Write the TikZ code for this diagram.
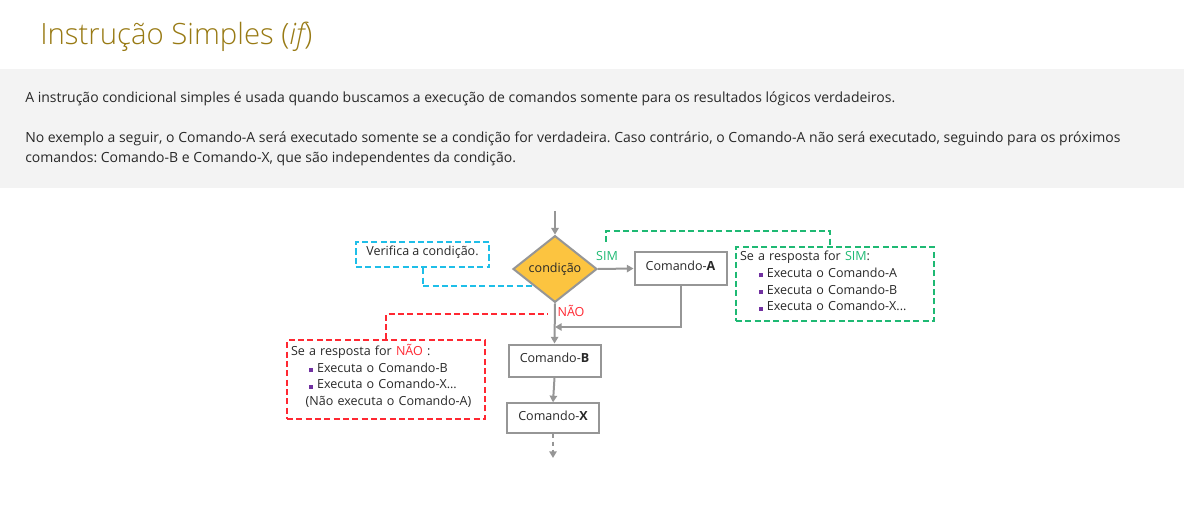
\documentclass[tikz,border=0pt]{standalone}
\usepackage{fontspec}
\setmainfont{Open Sans}
\newfontfamily\fonteleve{Open Sans Light}
\usetikzlibrary{shapes.geometric,arrows.meta}
\definecolor{titulo}{RGB}{152,122,20}
\definecolor{fundo}{RGB}{243,243,243}
\definecolor{cinza}{RGB}{150,150,150}
\definecolor{amarelo}{RGB}{252,196,64}
\definecolor{azul}{RGB}{30,190,232}
\definecolor{verde}{RGB}{30,185,115}
\definecolor{vermelho}{RGB}{255,40,50}
\definecolor{roxo}{RGB}{112,48,160}
\definecolor{texto}{RGB}{40,40,40}
\newcommand{\marca}{\textcolor{roxo}{\rule{3pt}{3pt}}\ }
\newcommand{\fundonota}[1]{\rule[-#1]{0pt}{#1}}
\frenchspacing
\begin{document}
\begin{tikzpicture}[x=0.75pt,y=-0.75pt,
    texto/.style={text=texto,font=\fontsize{10.5}{15}\selectfont,inner sep=0pt},
    diag/.style={text=texto,font=\fontsize{9.4}{12.5}\selectfont},
    caixa/.style={diag,draw=cinza,line width=1.5pt,minimum width=69pt,minimum height=24pt,inner sep=2pt,text depth=3.8pt},
    losango/.style={diag,diamond,draw=cinza,fill=amarelo,line width=1.5pt,minimum width=63pt,minimum height=50pt,inner sep=0pt},
    seta/.style={draw=cinza,line width=1.5pt,-{Triangle[width=5.5pt,length=5pt]}},
    nota/.style={diag,draw=#1,dash pattern=on 4.5pt off 2.5pt,line width=1.5pt,align=left,inner sep=3pt},
    ligacao/.style={draw=#1,dash pattern=on 4.5pt off 2.5pt,line width=1.5pt}
]
\useasboundingbox (0,0) rectangle (1184,513);
\fill[fundo] (0,69) rectangle (1184,188);
\node[anchor=base west,text=titulo,font=\fonteleve\fontsize{22}{26}\selectfont,inner sep=0pt] (titulo) at (40,45) {Instrução Simples ({\itshape if})};
\node[texto,anchor=base west] (linha1) at (25,103) {A instrução condicional simples é usada quando buscamos a execução de comandos somente para os resultados lógicos verdadeiros.};
\node[texto,anchor=base west] (linha2) at (25,143) {No exemplo a seguir, o Comando-A será executado somente se a condição for verdadeira. Caso contrário, o Comando-A não será executado, seguindo para os próximos};
\node[texto,anchor=base west] (linha3) at (25,163) {comandos: Comando-B e Comando-X, que são independentes da condição.};

\coordinate (inicio) at (555,211);
\coordinate (juncao) at (555,327);
\coordinate (fim) at (553,458);
\coordinate (simlig) at (606,242);
\coordinate (naolig) at (548,314);

\node[losango] (cond) at (555,269) {condição};
\node[caixa] (cmdA) at (680.5,268.5) {Comando-\textbf{A}};
\node[caixa] (cmdB) at (554.5,360.5) {Comando-\textbf{B}};
\node[caixa,minimum height=22pt] (cmdX) at (553,418) {Comando-\textbf{X}};
\node[diag,text=verde,inner sep=0pt] (sim) at (607,256) {SIM};
\node[diag,text=vermelho,inner sep=0pt] (nao) at (571,311) {NÃO};

\node[nota=azul,minimum width=100pt,minimum height=19pt,text depth=5.5pt] (verifica) at (422.5,254.5) {Verifica a condição.};
\node[nota=verde,text width=142.5pt,minimum height=55.5pt] (notasim) at (835,284)
    {Se a resposta for \textcolor{verde}{SIM}:\\
     \hspace*{14pt}\marca Executa o Comando-A\\
     \hspace*{14pt}\marca Executa o Comando-B\\
     \hspace*{14pt}\marca Executa o Comando-X...\fundonota{4.5pt}};
\node[nota=vermelho,text width=142.5pt,minimum height=56pt] (notanao) at (386,379.5)
    {Se a resposta for \textcolor{vermelho}{NÃO} :\\
     \hspace*{13.5pt}\marca Executa o Comando-B\\
     \hspace*{13.5pt}\marca Executa o Comando-X...\\
     \hspace*{11pt}(Não executa o Comando-A)\fundonota{6.7pt}};

\draw[seta] (inicio) -- (cond.north);
\draw[seta] (cond.east) -- (cmdA.west);
\draw[seta] (cond.south) -- (cmdB.north);
\draw[seta] (cmdA.south) |- (juncao);
\draw[seta] (cmdB.south) -- (cmdX.north);
\draw[seta,dashed] (cmdX.south) -- (fim);

\draw[ligacao=azul] (verifica.south) |- (cond.south west);
\draw[ligacao=verde] (simlig) -- ++(0,-11) -| ([xshift=-3.75pt]notasim.north);
\draw[ligacao=vermelho] (notanao.north) |- (naolig);
\end{tikzpicture}
\end{document}
